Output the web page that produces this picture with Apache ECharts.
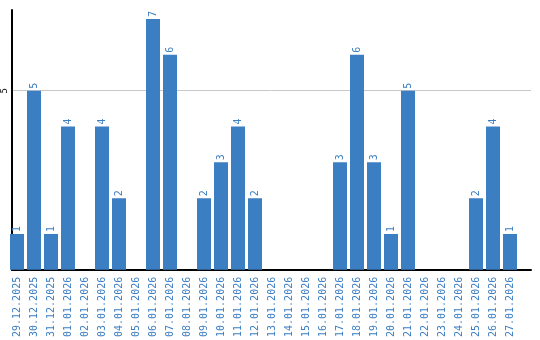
<!DOCTYPE html>
<html>
<head>
<meta charset="utf-8">
<script src="https://cdn.jsdelivr.net/npm/echarts@6/dist/echarts.min.js"></script>
<style>
  html, body { margin: 0; padding: 0; background: #fff; }
</style>
</head>
<body>
<div id="chart" style="width:540px;height:340px;"></div>
<script>
const days = [
  '29.12.2025', '30.12.2025', '31.12.2025', '01.01.2026', '02.01.2026',
  '03.01.2026', '04.01.2026', '05.01.2026', '06.01.2026', '07.01.2026',
  '08.01.2026', '09.01.2026', '10.01.2026', '11.01.2026', '12.01.2026',
  '13.01.2026', '14.01.2026', '15.01.2026', '16.01.2026', '17.01.2026',
  '18.01.2026', '19.01.2026', '20.01.2026', '21.01.2026', '22.01.2026',
  '23.01.2026', '24.01.2026', '25.01.2026', '26.01.2026', '27.01.2026'
];
const counts = [
  1, 5, 1, 4, 0, 4, 2, 0, 7, 6,
  0, 2, 3, 4, 2, 0, 0, 0, 0, 3,
  6, 3, 1, 5, 0, 0, 0, 2, 4, 1
];

const blue = '#3b7ec2';
const mono = '"DejaVu Sans Mono", monospace';

const chart = echarts.init(document.getElementById('chart'));
chart.setOption({
  animation: false,
  // grid 0: frame (axis lines + gridline), grid 1: bars, slightly narrower
  grid: [
    { left: 10, right: 9, top: 10, bottom: 70 },
    { left: 8.5, right: 21.5, top: 10, bottom: 70 }
  ],
  xAxis: [
    {
      gridIndex: 0,
      type: 'value',
      min: 0,
      max: 1,
      axisLine: { show: true, lineStyle: { color: '#000', width: 2 } },
      axisTick: { show: false },
      axisLabel: { show: false },
      splitLine: { show: false }
    },
    {
      gridIndex: 1,
      type: 'category',
      data: days,
      axisLine: { show: false },
      axisTick: { show: false },
      axisLabel: {
        interval: 0,
        rotate: 90,
        margin: 7,
        color: blue,
        fontFamily: mono,
        fontSize: 10
      }
    }
  ],
  yAxis: [
    {
      gridIndex: 0,
      type: 'value',
      min: 0,
      max: 7.25,
      interval: 5,
      axisLine: { show: true, lineStyle: { color: '#000', width: 2 } },
      axisTick: { show: false },
      splitLine: { showMinLine: false, showMaxLine: false, lineStyle: { color: '#c8c8c8', width: 1 } },
      axisLabel: {
        showMinLabel: false,
        showMaxLabel: false,
        rotate: 90,
        margin: 3,
        color: '#000',
        fontFamily: mono,
        fontSize: 9
      }
    },
    {
      gridIndex: 1,
      type: 'value',
      min: 0,
      max: 7.25,
      show: false
    }
  ],
  series: [
    {
      type: 'bar',
      xAxisIndex: 1,
      yAxisIndex: 1,
      data: counts,
      barWidth: 14,
      z: 5,
      itemStyle: { color: blue },
      label: {
        show: true,
        position: 'top',
        rotate: 90,
        align: 'left',
        verticalAlign: 'middle',
        distance: 2,
        color: blue,
        fontFamily: mono,
        fontSize: 10,
        formatter: p => (p.value > 0 ? p.value : '')
      }
    }
  ]
});
</script>
</body>
</html>
